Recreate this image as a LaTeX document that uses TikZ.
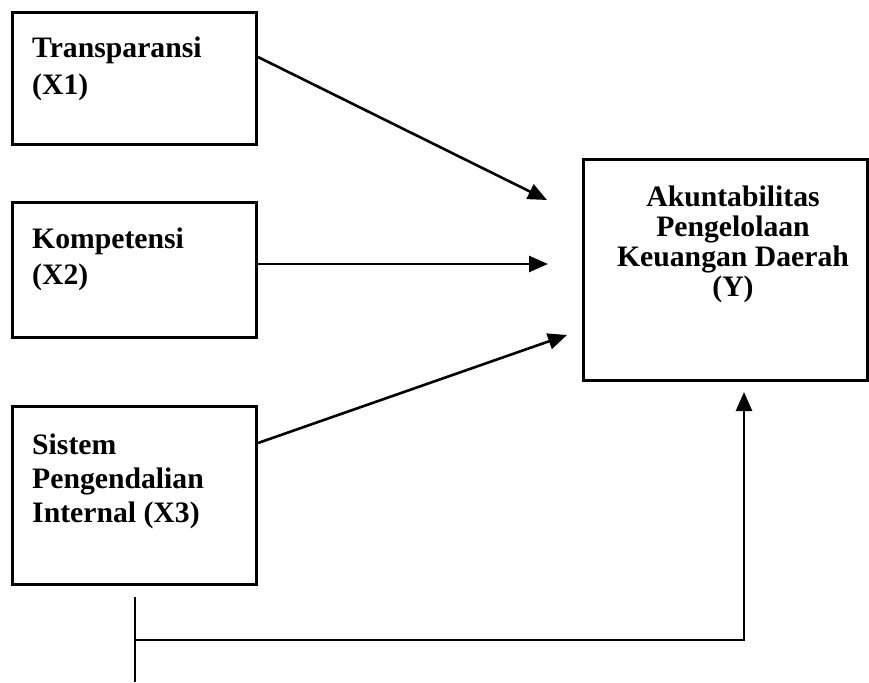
\documentclass[tikz,border=0pt]{standalone}
\usepackage{fontspec}
\setmainfont{Liberation Serif}
\usetikzlibrary{arrows.meta}
\tikzset{
  box/.style={draw=black, line width=3pt, fill=white, inner sep=0pt},
  lbl/.style={font=\bfseries\fontsize{29.7}{37}\selectfont, inner sep=0pt, align=left, anchor=base west},
  conn/.style={line width=2.6pt},
  arr/.style={conn, -{Triangle[length=19pt,width=16pt]}}
}
\begin{document}
\begin{tikzpicture}[x=1pt,y=-1pt]
\useasboundingbox (0,0) rectangle (869,682);
% boxes
\node[box, minimum width=244pt, minimum height=132pt, anchor=north west] (x1) at (11,11) {};
\node[box, minimum width=244pt, minimum height=135pt, anchor=north west] (x2) at (11,201) {};
\node[box, minimum width=244pt, minimum height=178pt, anchor=north west] (x3) at (11,405) {};
\node[box, minimum width=284pt, minimum height=221pt, anchor=north west] (y) at (582,158) {};
% texts (anchored at the baseline of the last line)
\node[lbl] (t1) at (32,95) {Transparansi\\(X1)};
\node[lbl, font=\bfseries\fontsize{29.7}{36}\selectfont] (t2) at (32,284) {Kompetensi\\(X2)};
\node[lbl, font=\bfseries\fontsize{29.7}{34}\selectfont] (t3) at (32,522) {Sistem\\Pengendalian\\Internal (X3)};
\node[lbl, align=center, anchor=base, font=\bfseries\fontsize{29.7}{30}\selectfont] (ty) at (733,296) {Akuntabilitas\\Pengelolaan\\Keuangan Daerah\\(Y)};
% connector coordinates
\coordinate (s1) at (x1.east |- 0,57);
\coordinate (e1) at (547,200);
\coordinate (s2) at (x2.east |- 0,264);
\coordinate (e2) at (548,264);
\coordinate (s3) at (x3.east |- 0,443);
\coordinate (e3) at (567,335);
\coordinate (vtop) at (135,597);
\coordinate (vbot) at (135,682);
\coordinate (hl) at (135,640);
\coordinate (hr) at (744,640);
\coordinate (e4) at (744,392);
% connectors
\draw[arr] (s1) -- (e1);
\draw[arr] (s2) -- (e2);
\draw[arr] (s3) -- (e3);
\draw[conn] (vtop) -- (vbot);
\draw[arr] (hl) -- (hr) -- (e4);
\end{tikzpicture}
\end{document}
